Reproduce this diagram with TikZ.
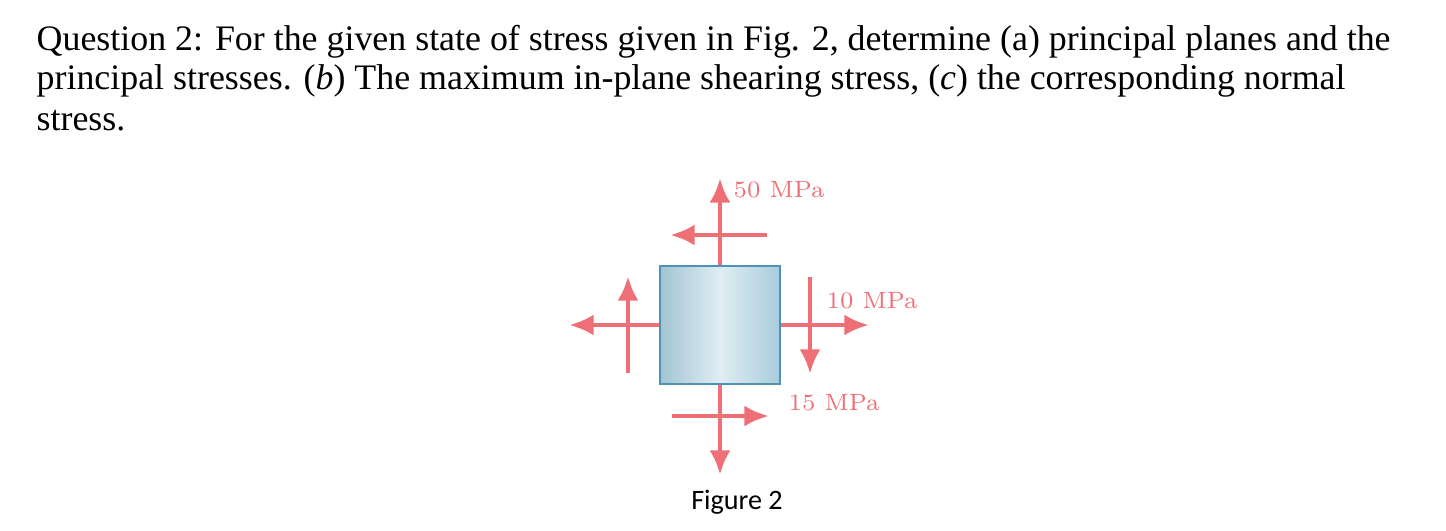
\documentclass[tikz,border=0pt]{standalone}
\usepackage{fontspec}
\setmainfont{Liberation Serif}
\newfontfamily\figfont{Carlito}
\newfontfamily\lmfont{Latin Modern Roman}
\usepackage{amsmath}
\definecolor{stressred}{RGB}{238,112,118}
\definecolor{elemblue}{RGB}{168,204,220}
\definecolor{elemedge}{RGB}{78,148,178}
\tikzstyle{stress} = [draw=stressred, line width=1.4pt, -{Latex[length=7pt,width=6pt]}]
\tikzstyle{mpa} = [text=stressred, font=\lmfont\fontsize{6.7}{8}\selectfont, anchor=west, inner sep=0pt]
\tikzstyle{qline} = [anchor=base west, inner sep=0pt, font=\fontsize{10.2}{12}\selectfont]
\usetikzlibrary{arrows.meta}
\begin{document}
\begin{tikzpicture}[x=0.01cm,y=-0.01cm]
    \useasboundingbox (0,0) rectangle (1446,530);
    % question text
    \node[qline] (q1) at (36,50) {Question 2: For the given state of stress given in Fig. 2, determine (a) principal planes and the};
    \node[qline] (q2) at (36,89) {principal stresses. (\textit{b}) The maximum in-plane shearing stress, (\textit{c}) the corresponding normal};
    \node[qline] (q3) at (36,130) {stress.};
    % element
    \coordinate (c) at (720,325);
    \coordinate (tt) at (720,178);  \coordinate (ts) at (767,235); \coordinate (te) at (670,235);
    \coordinate (lt) at (569,325);  \coordinate (ls) at (628,373); \coordinate (le) at (628,276);
    \coordinate (rt) at (869,325);  \coordinate (rs) at (810,277); \coordinate (re) at (810,374);
    \coordinate (bt) at (720,475);  \coordinate (bs) at (672,416); \coordinate (be) at (769,416);
    \draw[stress] (720,266) -- (tt);
    \draw[stress] (ts) -- (te);
    \draw[stress] (660,325) -- (lt);
    \draw[stress] (ls) -- (le);
    \draw[stress] (780,325) -- (rt);
    \draw[stress] (rs) -- (re);
    \draw[stress] (720,384) -- (bt);
    \draw[stress] (bs) -- (be);
    \node[draw=elemedge, line width=0.8pt, minimum width=1.2cm, minimum height=1.18cm,
          inner sep=0pt, shading angle=45, left color=elemblue!80!black!20!elemblue, right color=elemblue,
          middle color=elemblue!35] (elem) at (c) {};
    % labels
    \node[mpa] (s50) at (733,190) {50 MPa};
    \node[mpa] (s10) at (826,301) {10 MPa};
    \node[mpa] (s15) at (788,403) {15 MPa};
    \node[font=\figfont\fontsize{8}{10}\selectfont] (fig) at (737,502) {Figure 2};
\end{tikzpicture}
\end{document}
